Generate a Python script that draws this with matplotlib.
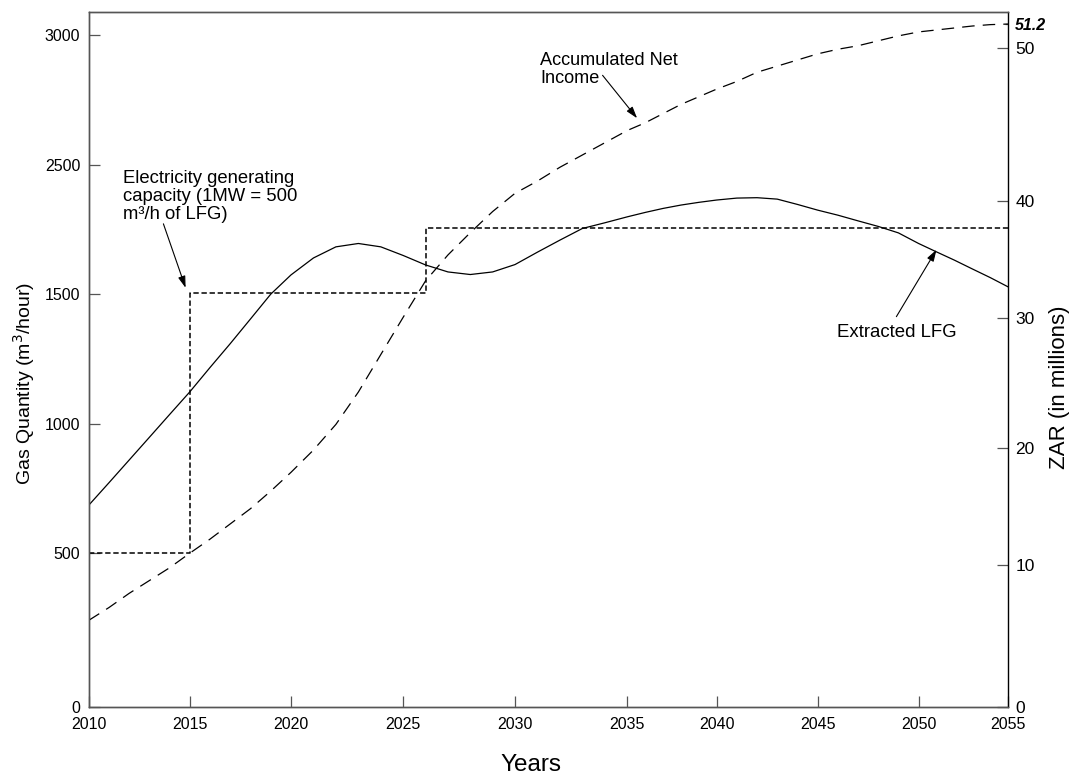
import numpy as np
import matplotlib
matplotlib.use('Agg')
import matplotlib.pyplot as plt
from matplotlib.transforms import ScaledTranslation

# ---- values ----
years = list(range(2010, 2056))

# extracted LFG, m3/hour (left axis)
extracted_lfg = [686, 773, 861, 949, 1037, 1124, 1218, 1310, 1405, 1501,
                 1650, 1781, 1867, 1893, 1867, 1800, 1727, 1673, 1653, 1673,
                 1730, 1826, 1919, 2009, 2053, 2099, 2133, 2164, 2190, 2211,
                 2229, 2244, 2247, 2236, 2195, 2151, 2112, 2068, 2025, 1975,
                 1893, 1828, 1764, 1696, 1629, 1557]

# accumulated net income, ZAR millions (right axis)
net_income = [6.1, 7.0, 8.0, 8.9, 9.8, 11.0, 12.2, 13.5, 14.8, 16.3,
              17.9, 19.8, 21.8, 24.3, 27.2, 30.1, 33.2, 35.4, 37.3, 39.1,
              40.5, 41.3, 42.2, 43.0, 43.8, 44.6, 45.1, 45.7, 46.3, 46.8,
              47.3, 47.8, 48.4, 48.8, 49.2, 49.6, 49.9, 50.1, 50.35, 50.6,
              50.8, 50.9, 51.0, 51.1, 51.17, 51.2]

# electricity generating capacity steps (1MW = 500 m3/h)
cap_years = [2010, 2015, 2026, 2055]
cap_values = [500, 1510, 2010, 2010]

x_ticks = [2010, 2015, 2020, 2025, 2030, 2035, 2040, 2045, 2050, 2055]
left_ticks = [0, 500, 1000, 1500, 2500, 3000]
right_ticks = [0, 10, 20, 30, 40, 50]
final_income = 51.2

# the original axes are drawn by hand: tick spacing is not even,
# so each axis gets a piecewise linear scale (tick -> fraction of axis)
x_frac = [0, .1098, .2200, .3421, .4636, .5857, .6829, .7927, .9025, 1.0]
left_frac = [0, .2212, .4068, .5938, .7799, .9669]
right_vals = right_ticks + [final_income]
right_frac = [0, .2043, .3731, .5593, .7281, .9486, .9827]


def piecewise(vals, fracs):
    vals = np.asarray(vals, float)
    fracs = np.asarray(fracs, float)
    # extend both ends linearly so nothing gets clamped
    s0 = (fracs[1] - fracs[0]) / (vals[1] - vals[0])
    s1 = (fracs[-1] - fracs[-2]) / (vals[-1] - vals[-2])
    big = 1e4
    v = np.concatenate([[vals[0] - big], vals, [vals[-1] + big]])
    f = np.concatenate([[fracs[0] - big * s0], fracs, [fracs[-1] + big * s1]])

    def fwd(a):
        return np.interp(a, v, f)

    def inv(a):
        return np.interp(a, f, v)
    return fwd, inv


plt.rcParams['font.family'] = ['Liberation Sans', 'DejaVu Sans']

fig = plt.figure(figsize=(10.75, 7.8), dpi=100)
ax = fig.add_axes([0.0825, 0.0936, 0.8554, 0.891])
ax2 = ax.twinx()

ax.set_xscale('function', functions=piecewise(x_ticks, x_frac))
ax.set_yscale('function', functions=piecewise(left_ticks, left_frac))
ax2.set_yscale('function', functions=piecewise(right_vals, right_frac))

ax.set_xlim(2010, 2055)
ax.set_ylim(0, piecewise(left_ticks, left_frac)[1](1.0))
ax2.set_ylim(0, piecewise(right_vals, right_frac)[1](1.0))

# lines
ax.plot(years, extracted_lfg, color='black', lw=0.9)
ax.plot(cap_years, cap_values, color='black', lw=1.1,
        drawstyle='steps-post', linestyle=(0, (3.5, 1.8)))
ax2.plot(years, net_income, color='black', lw=0.9,
         linestyle=(0, (10, 6.5)))

# ticks
ax.set_xticks(x_ticks)
ax.set_xticklabels([str(y) for y in x_ticks], fontsize=11.5)
ax.set_yticks(left_ticks)
ax.set_yticklabels([str(v) for v in left_ticks], fontsize=11.5)
ax2.set_yticks(right_ticks)
ax2.set_yticklabels([str(v) for v in right_ticks], fontsize=12.5)
ax2.set_yticks([final_income], minor=True)
ax2.set_yticklabels(['51.2'], minor=True, fontsize=11.5,
                    fontweight='bold', fontstyle='italic')

# the "0" labels sit a little above the corner in the original
lift = ScaledTranslation(0, 0.05, fig.dpi_scale_trans)
zero_left = ax.get_yticklabels()[0]
zero_left.set_transform(zero_left.get_transform() + lift)
zero_right = ax2.get_yticklabels()[0]
zero_right.set_transform(zero_right.get_transform() +
                         ScaledTranslation(0, 0.03, fig.dpi_scale_trans))

ax.tick_params(axis='x', direction='in', length=8, width=0.9,
               color='#555555', pad=7)
ax.tick_params(axis='y', direction='in', length=8, width=0.9,
               color='#555555', pad=6)
ax2.tick_params(axis='y', which='major', direction='in', length=8,
                width=0.9, color='#555555', pad=5)
ax2.tick_params(axis='y', which='minor', direction='in', length=2.5,
                width=0.9, color='#555555', pad=5)

for name in ['left', 'bottom', 'top']:
    ax.spines[name].set_color('#555555')
    ax2.spines[name].set_color('#555555')
    ax.spines[name].set_linewidth(1.0)
    ax2.spines[name].set_linewidth(1.0)
ax2.spines['right'].set_color('black')
ax2.spines['right'].set_linewidth(1.0)
ax.spines['right'].set_visible(False)

# axis titles
fig.text(0.0224, 0.509, 'Gas Quantity (m$^3$/hour)', rotation=90,
         ha='center', va='center', fontsize=14)
fig.text(0.986, 0.504, 'ZAR (in millions)', rotation=90,
         ha='center', va='center', fontsize=16)
fig.text(0.494, 0.019, 'Years', ha='center', va='center', fontsize=17.5)

# annotations
arrow = dict(arrowstyle='-|>,head_length=0.7,head_width=0.22',
             color='black', lw=0.8, shrinkA=0, shrinkB=0)

ax.text(0.0376, 0.7022, 'Electricity generating\ncapacity (1MW = 500\nm³/h of LFG)',
        transform=ax.transAxes, ha='left', va='baseline', fontsize=13.3,
        linespacing=1.08)
ax.annotate('', xy=(2014.8, 1550), xytext=(2013.7, 2045), arrowprops=arrow)

ax2.text(0.4908, 0.8983, 'Accumulated Net\nIncome', transform=ax.transAxes,
         ha='left', va='baseline', fontsize=13.1, linespacing=1.08)
ax2.annotate('', xy=(2035.55, 45.4), xytext=(2033.9, 48.2), arrowprops=arrow)

ax.text(0.8134, 0.5328, 'Extracted LFG', transform=ax.transAxes,
        ha='left', va='baseline', fontsize=13.4)
ax.annotate('', xy=(2051.0, 1845), xytext=(2048.9, 1414), arrowprops=arrow)

fig.savefig('out.png', dpi=100)
